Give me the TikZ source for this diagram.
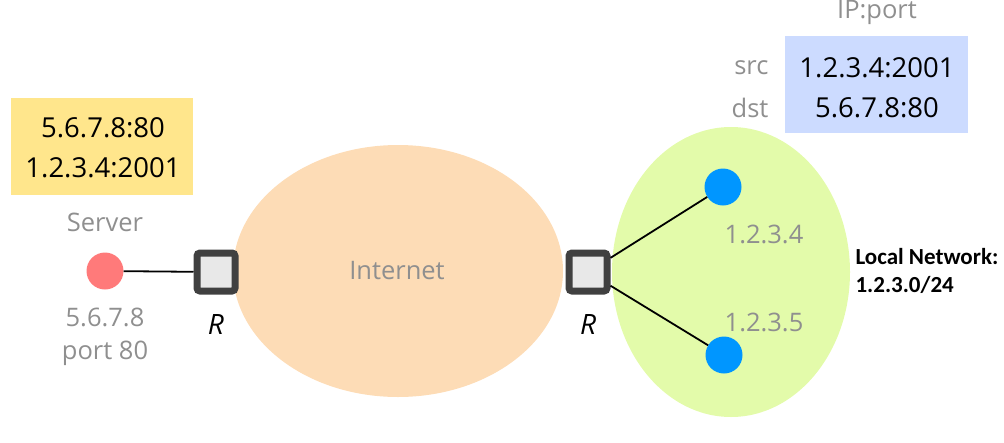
\documentclass[tikz,border=0pt]{standalone}
\usepackage{fontspec}
\setmainfont{Open Sans}
\newfontfamily\calibri{Carlito}
\usetikzlibrary{shapes.geometric}
\definecolor{lblgray}{HTML}{8F8F8F}
\definecolor{boxyellow}{HTML}{FFE68C}
\definecolor{boxblue}{HTML}{CCDBFF}
\definecolor{netpeach}{HTML}{FDDCB6}
\definecolor{netgreen}{HTML}{E3FBAA}
\definecolor{srvred}{HTML}{FF7A7A}
\definecolor{hostblue}{HTML}{0096FF}
\definecolor{rtrgray}{HTML}{404040}
\definecolor{rtrfill}{HTML}{E8E8E8}
\tikzset{
  lbl/.style={text=lblgray, font=\fontsize{25.5}{30}\selectfont},
  addr/.style={text=black, font=\fontsize{27.5}{32}\selectfont},
  router/.style={rectangle, draw=rtrgray, fill=rtrfill, line width=7pt, rounded corners=3pt, minimum size=38pt, inner sep=0pt},
  link/.style={line width=1.8pt},
}
\begin{document}
\begin{tikzpicture}[x=1pt,y=-1pt]
\useasboundingbox (0,0) rectangle (1004,442);
% clouds
\node[ellipse, fill=netpeach, minimum width=330pt, minimum height=252pt, inner sep=0pt] (inet) at (398,271){};
\node[ellipse, fill=netgreen, minimum width=238pt, minimum height=290pt, inner sep=0pt] (lan) at (731,272){};
\node[lbl] (inetlbl) at (397,271){Internet};
% address boxes
\node[rectangle, fill=boxyellow, minimum width=182pt, minimum height=97pt] (pkt0) at (102,146.5){};
\node[addr] (pkt0a) at (103,128){5.6.7.8:80};
\node[addr] (pkt0b) at (103,168){1.2.3.4:2001};
\node[rectangle, fill=boxblue, minimum width=183pt, minimum height=97pt] (pkt1) at (876.5,84.5){};
\node[addr] (pkt1a) at (877,68){1.2.3.4:2001};
\node[addr] (pkt1b) at (877,108){5.6.7.8:80};
\node[lbl, anchor=east] (src) at (772,68){src};
\node[lbl, anchor=east] (dst) at (772,108){dst};
\node[lbl] (hdr) at (877,12){IP:port};
% hosts and routers
\node[circle, fill=srvred, minimum size=37pt, inner sep=0pt] (srv) at (105,271){};
\node[router] (r0) at (216,272){};
\node[router] (r1) at (588,272){};
\node[circle, fill=hostblue, minimum size=37pt, inner sep=0pt] (h0) at (723,187){};
\node[circle, fill=hostblue, minimum size=37pt, inner sep=0pt] (h1) at (724,355){};
\draw[link](srv) -- (r0);
\draw[link](r1) -- (h0);
\draw[link](r1) -- (h1);
% labels
\node[lbl] (srvlbl) at (105,222){Server};
\node[lbl] (srvip) at (105,317){5.6.7.8};
\node[lbl] (srvport) at (105,353){port 80};
\node[addr, font=\fontsize{28}{32}\selectfont\itshape] (r0lbl) at (216,325){R};
\node[addr, font=\fontsize{28}{32}\selectfont\itshape] (r1lbl) at (588,325){R};
\node[lbl] (h0ip) at (764,234){1.2.3.4};
\node[lbl] (h1ip) at (764,322){1.2.3.5};
\node[anchor=west, align=left, font=\calibri\bfseries\fontsize{23}{28}\selectfont] (lanlbl) at (852,271){Local Network:\\1.2.3.0/24};
\end{tikzpicture}
\end{document}
